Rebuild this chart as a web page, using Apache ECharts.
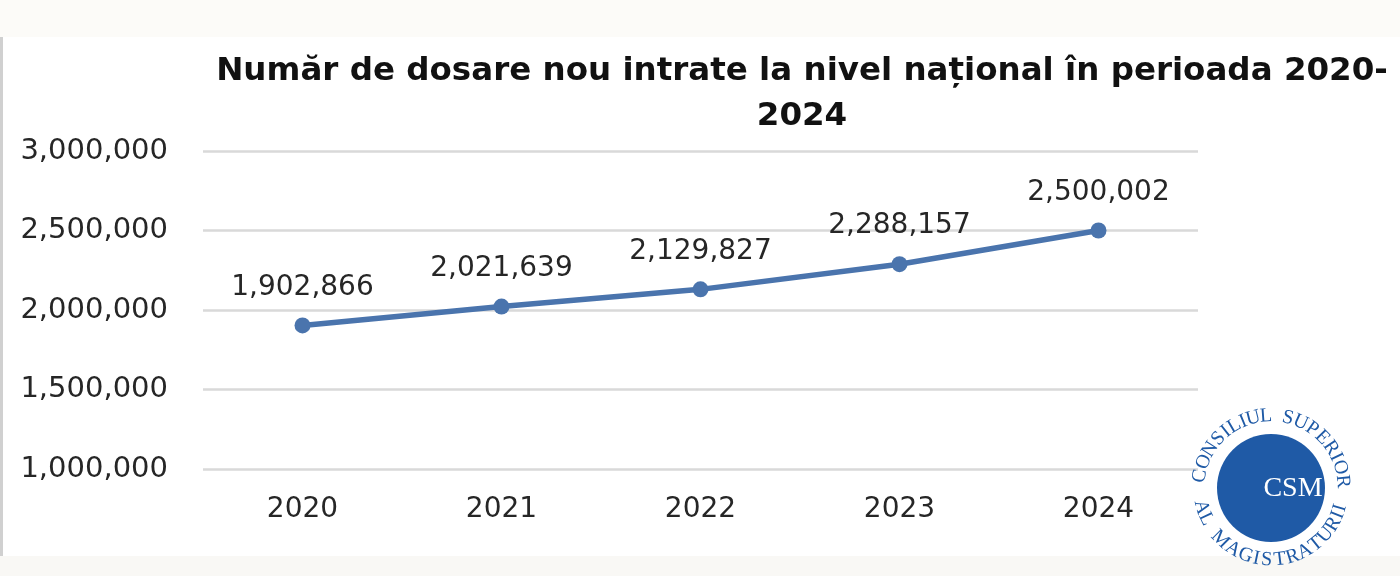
<!DOCTYPE html>
<html>
<head>
<meta charset="utf-8">
<script src="https://cdn.jsdelivr.net/npm/echarts@6/dist/echarts.min.js"></script>
<style>
html,body{margin:0;padding:0;background:#ffffff;}
#chart{width:1400px;height:576px;}
</style>
</head>
<body>
<div id="chart"></div>
<script>
var titleText = 'Număr de dosare nou intrate la nivel național în perioada 2020-\n2024';
var years = ['2020', '2021', '2022', '2023', '2024'];
var cases = [1902866, 2021639, 2129827, 2288157, 2500002];
var yMin = 1000000, yMax = 3000000, yStep = 500000;

function fmt(v) { return String(v).replace(/\B(?=(\d{3})+(?!\d))/g, ','); }

var chart = echarts.init(document.getElementById('chart'));

var cx = 1271, cy = 488, rText = 72;
var logoGraphics = [
  { type: 'rect', shape: { x: 0, y: 0, width: 1400, height: 37 }, style: { fill: '#fcfbf8' }, silent: true, z: -10 },
  { type: 'rect', shape: { x: 0, y: 556, width: 1400, height: 20 }, style: { fill: '#f9f8f5' }, silent: true, z: -10 },
  { type: 'rect', shape: { x: 0, y: 37, width: 3, height: 519 }, style: { fill: '#d0d0d0' }, silent: true, z: -9 },
  { type: 'circle', shape: { cx: cx, cy: cy, r: 54 }, style: { fill: '#1f5aa6' }, silent: true, z: 5 },
  { type: 'text', x: 1293, y: 489, style: { text: 'CSM', fill: '#ffffff', font: '28px "Liberation Serif", serif', textAlign: 'center', textVerticalAlign: 'middle' }, silent: true, z: 6 }
];
var glyphW = { 'I': 0.45, 'L': 0.75, ' ': 0.55, 'M': 1.15, 'C': 0.85, 'O': 0.9, 'G': 0.9 };
function arcText(str, a0, a1, top) {
  var n = str.length, ws = [], total = 0;
  for (var i = 0; i < n; i++) { var w = glyphW[str[i]] || 0.8; ws.push(w); total += w; }
  var acc = 0;
  for (var j = 0; j < n; j++) {
    var t = (acc + ws[j] / 2) / total;
    acc += ws[j];
    if (str[j] === ' ') continue;
    var a = a0 + (a1 - a0) * t;
    var rad = a * Math.PI / 180;
    var x = cx + rText * Math.cos(rad);
    var y = cy - rText * Math.sin(rad);
    var rot = top ? (a - 90) : (a - 270);
    logoGraphics.push({
      type: 'text', x: x, y: y, rotation: rot * Math.PI / 180,
      style: { text: str[j], fill: '#1f5aa6', font: '20px "Liberation Serif", serif', textAlign: 'center', textVerticalAlign: 'middle' },
      silent: true, z: 6
    });
  }
}
arcText('CONSILIUL SUPERIOR', 176, 0, true);
arcText('AL MAGISTRATURII', 190, 347, false);

chart.setOption({
  backgroundColor: '#ffffff',
  animation: false,
  title: {
    text: titleText,
    left: 797,
    top: 44,
    textAlign: 'center',
    textStyle: { fontFamily: 'DejaVu Sans', fontWeight: 'bold', fontSize: 32.5, lineHeight: 45, color: '#111111' }
  },
  grid: { left: 203, right: 202, top: 151, bottom: 107, containLabel: false },
  xAxis: {
    type: 'category',
    data: years,
    boundaryGap: true,
    axisLine: { show: false },
    axisTick: { show: false },
    axisLabel: { margin: 27, fontFamily: 'DejaVu Sans', fontSize: 28, color: '#262626' }
  },
  yAxis: {
    type: 'value',
    min: yMin, max: yMax, interval: yStep,
    axisLine: { show: false },
    axisTick: { show: false },
    axisLabel: { margin: 35, fontFamily: 'DejaVu Sans', fontSize: 29, color: '#262626', formatter: fmt },
    splitLine: { lineStyle: { color: '#d9d9d9', width: 2.5 } }
  },
  series: [{
    type: 'line',
    data: cases,
    symbol: 'circle',
    symbolSize: 16,
    lineStyle: { color: '#4a74ad', width: 5.5 },
    itemStyle: { color: '#4a74ad' },
    label: {
      show: true, position: 'top', distance: 16,
      fontFamily: 'DejaVu Sans', fontSize: 28, color: '#262626',
      formatter: function (p) { return fmt(p.value); }
    }
  }],
  graphic: logoGraphics
});
</script>
</body>
</html>
